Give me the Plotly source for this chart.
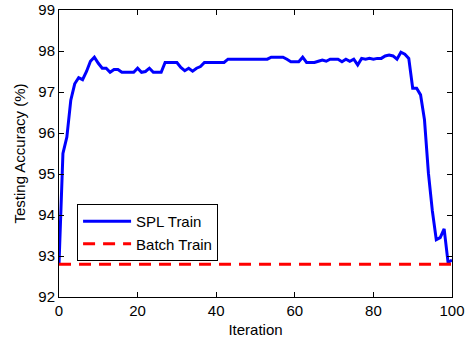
import plotly.graph_objects as go

iterations = list(range(0, 101))
spl_train = [
    92.8, 95.5, 95.9, 96.8, 97.2, 97.35, 97.3, 97.5, 97.75, 97.85,
    97.7, 97.58, 97.58, 97.48, 97.55, 97.55, 97.48, 97.48, 97.48, 97.48,
    97.58, 97.48, 97.5, 97.58, 97.48, 97.48, 97.48, 97.72, 97.72, 97.72,
    97.72, 97.6, 97.52, 97.58, 97.51, 97.58, 97.62, 97.72, 97.72, 97.72,
    97.72, 97.72, 97.72, 97.8, 97.8, 97.8, 97.8, 97.8, 97.8, 97.8,
    97.8, 97.8, 97.8, 97.8, 97.85, 97.85, 97.85, 97.85, 97.8, 97.74,
    97.74, 97.74, 97.85, 97.72, 97.72, 97.72, 97.75, 97.78, 97.75, 97.8,
    97.8, 97.8, 97.74, 97.8, 97.75, 97.8, 97.66, 97.82, 97.8, 97.82,
    97.8, 97.82, 97.82, 97.88, 97.9, 97.88, 97.8, 97.97, 97.92, 97.82,
    97.09, 97.09, 96.93, 96.32, 95.02, 94.1, 93.4, 93.45, 93.66, 92.84,
    92.9,
]
batch_x = [0, 100]
batch_train = [92.8, 92.8]

x_ticks = [0, 20, 40, 60, 80, 100]
y_ticks = [92, 93, 94, 95, 96, 97, 98, 99]

fig = go.Figure()
fig.add_trace(go.Scatter(x=iterations, y=spl_train, mode="lines", name="SPL Train",
                         line=dict(color="#0000FF", width=3)))
fig.add_trace(go.Scatter(x=batch_x, y=batch_train, mode="lines", name="Batch Train",
                         line=dict(color="#FF0000", width=3, dash="12px,8px")))

font = "Liberation Sans, Arial, sans-serif"
axis_common = dict(showline=True, linecolor="black", linewidth=1, mirror="ticks",
                   ticks="inside", ticklen=5, tickcolor="black", showgrid=False,
                   zeroline=False, automargin=False,
                   tickfont=dict(family=font, size=15, color="black"))

fig.update_layout(
    width=465, height=343,
    margin=dict(l=59, r=13, t=10, b=46),
    paper_bgcolor="white", plot_bgcolor="white",
    font=dict(family=font, color="black"),
    xaxis=dict(range=[0, 100], tickvals=x_ticks,
               title=dict(text="Iteration", font=dict(family=font, size=15), standoff=6),
               **axis_common),
    yaxis=dict(range=[92, 99], tickvals=y_ticks,
               title=dict(text="Testing Accuracy (%)", font=dict(family=font, size=15), standoff=9),
               **axis_common),
    legend=dict(x=0.046, y=0.324, xanchor="left", yanchor="top",
                bordercolor="black", borderwidth=1, bgcolor="white",
                font=dict(family=font, size=15, color="black"),
                itemwidth=48, tracegroupgap=0),
    showlegend=True,
)

fig.write_html("out.html", config={"displayModeBar": False},
               post_script="document.body.style.margin='0';")
